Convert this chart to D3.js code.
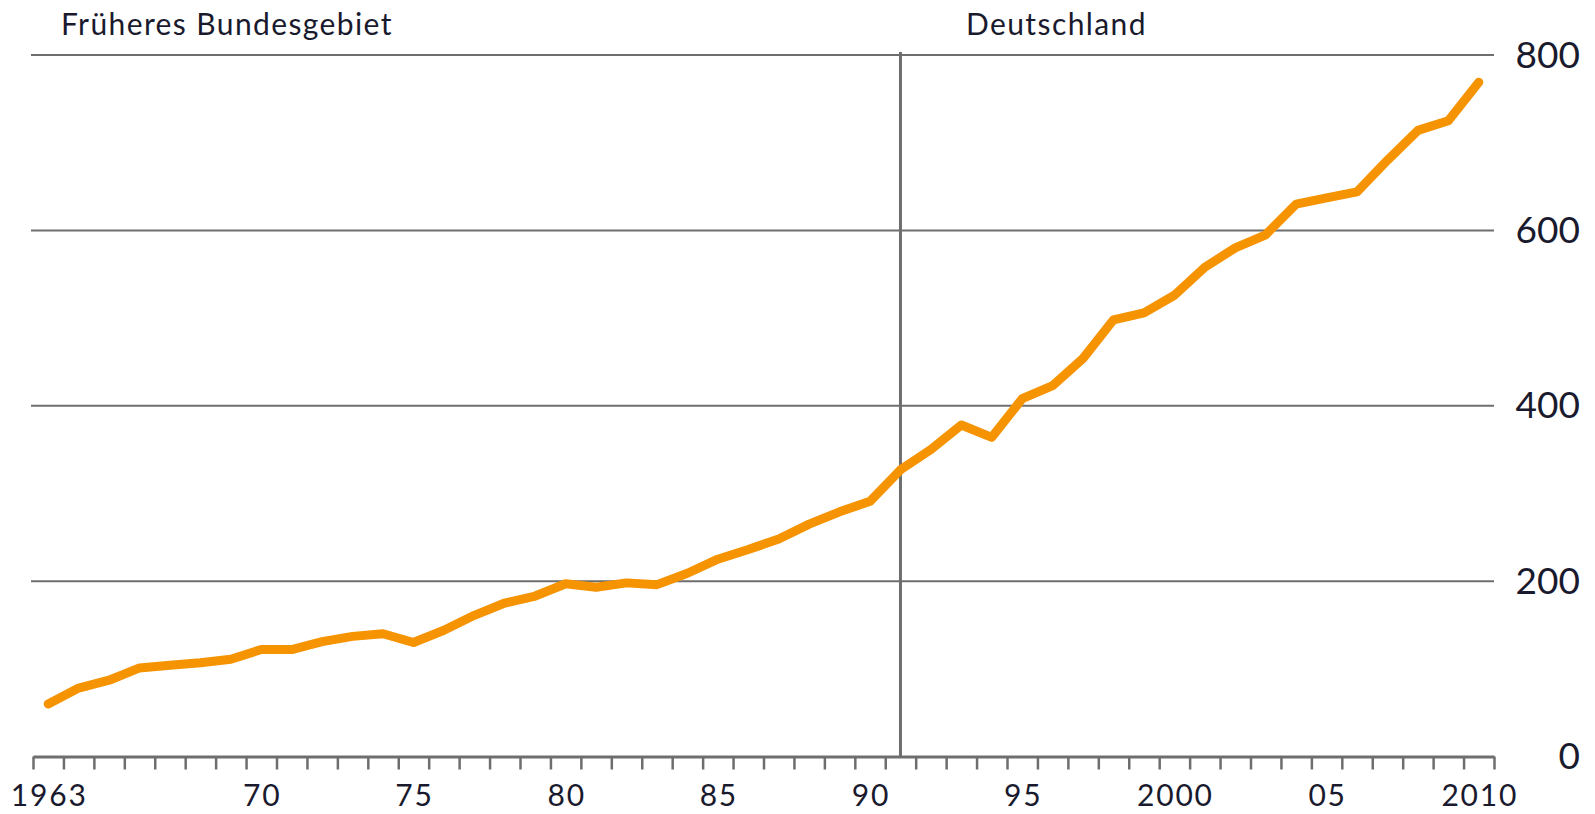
<!DOCTYPE html>
<html>
<head>
<meta charset="utf-8">
<script src="https://cdn.jsdelivr.net/npm/d3@7"></script>
<style>
html,body{margin:0;padding:0;background:#fff;}
svg{display:block;}
text{font-family:Lato,"Open Sans",sans-serif;fill:#1a1a2e;}
</style>
</head>
<body>
<svg id="chart" width="1595" height="814"></svg>
<script>
const years = d3.range(1963, 2011);
const values = [60,78,87,101,104,107,111,122,122,131,137,140,130,144,
  161,175,183,197,193,198,196,209,225,236,248,265,279,291,
  327,350,378,364,408,423,454,498,506,526,558,580,595,630,637,644,680,714,725,769];
const xTickLabels = [[1963,"1963"],[1970,"70"],[1975,"75"],[1980,"80"],[1985,"85"],[1990,"90"],[1995,"95"],[2000,"2000"],[2005,"05"],[2010,"2010"]];
const yTicks = [0,200,400,600,800];
const regionLabels = ["Früheres Bundesgebiet","Deutschland"];
const breakYear = 1991;

const svg = d3.select("#chart");
const x = d3.scaleLinear().domain([1963, 2011]).range([33, 1494]);
const y = d3.scaleLinear().domain([0, 800]).range([756.5, 55]);
const grey = "#6e6e6e";

// gridlines
svg.append("g").selectAll("line").data(yTicks.filter(d => d > 0)).join("line")
  .attr("x1", 31).attr("x2", x(2011))
  .attr("y1", d => y(d)).attr("y2", d => y(d))
  .attr("stroke", grey).attr("stroke-width", 2);

// y labels (right)
svg.append("g").selectAll("text").data(yTicks).join("text")
  .attr("x", 1580).attr("y", d => y(d) + 12.5)
  .attr("text-anchor", "end")
  .style("font-size", "37px")
  .text(d => d);

// vertical break line
svg.append("line")
  .attr("x1", x(breakYear + 0.5)).attr("x2", x(breakYear + 0.5))
  .attr("y1", y(800) - 3).attr("y2", y(0))
  .attr("stroke", grey).attr("stroke-width", 3);

// x axis
const xAxis = d3.axisBottom(x)
  .tickValues(d3.range(1963, 2012))
  .tickSize(13).tickSizeOuter(0)
  .tickFormat("");
const gx = svg.append("g").attr("transform", `translate(0,${y(0)})`).call(xAxis);
gx.select(".domain").attr("stroke", grey).attr("stroke-width", 3);
gx.selectAll(".tick line").attr("stroke", grey).attr("stroke-width", 2.5);

svg.append("g").selectAll("text").data(xTickLabels).join("text")
  .attr("x", d => x(d[0] + 0.5) + 1).attr("y", 806)
  .attr("text-anchor", "middle")
  .style("font-size", "30px")
  .style("letter-spacing", "1.8px")
  .text(d => d[1]);

// region labels
svg.append("text").attr("x", 61).attr("y", 35)
  .style("font-size", "30px").style("letter-spacing", "1.4px").text(regionLabels[0]);
svg.append("text").attr("x", 966).attr("y", 35)
  .style("font-size", "30px").style("letter-spacing", "1.4px").text(regionLabels[1]);

// line
const line = d3.line().x((d, i) => x(years[i] + 0.5)).y(d => y(d));
svg.append("path").datum(values)
  .attr("d", line)
  .attr("fill", "none")
  .attr("stroke", "#f59300")
  .attr("stroke-width", 9)
  .attr("stroke-linejoin", "round")
  .attr("stroke-linecap", "round");
</script>
</body>
</html>
